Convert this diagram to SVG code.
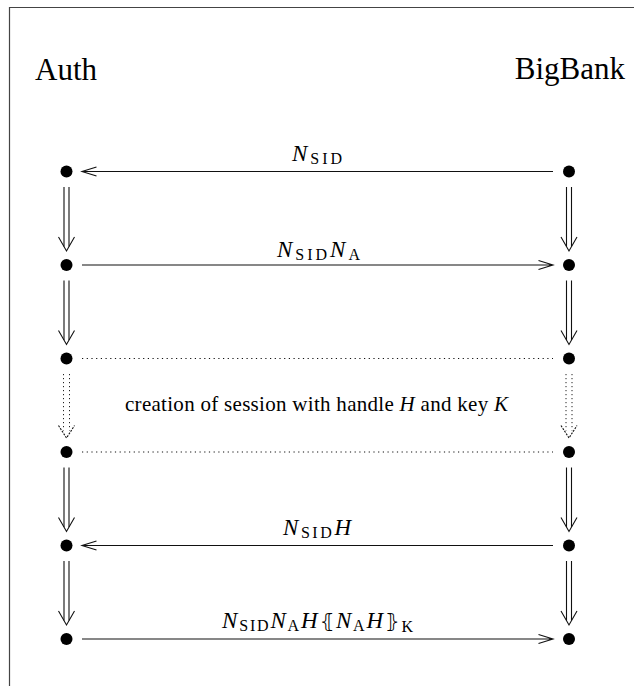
<svg xmlns="http://www.w3.org/2000/svg" width="634" height="686" viewBox="0 0 634 686">
<style>
.frame{stroke:#444;stroke-width:1.2;fill:none}
.ln{stroke:#111;stroke-width:1.1;fill:none}
.dot{fill:#000}
.dotted{stroke:#111;stroke-width:1.1;fill:none;stroke-dasharray:1.2 3.5}
.vdotted{stroke:#222;stroke-width:1;fill:none;stroke-dasharray:1.2 2.8}
text{font-family:'Liberation Serif','Times New Roman','DejaVu Serif',serif;fill:#000}
.title{font-size:31px}
.txt{font-size:21px}
.math{font-size:23px}
.it{font-style:italic}
.sub{font-size:16px;font-style:normal}
.br{font-family:'DejaVu Serif','DejaVu Sans',serif;font-style:normal;font-size:20px}
</style>
<defs>
<g id="dbl">
<path class="ln" d="M-2.5,15.5 V75 M2.5,15.5 V75"/>
<path class="ln" d="M-8,65.5 L0,79.5 L8,65.5"/>
</g>
<g id="dbldot">
<path class="vdotted" d="M-3,15.5 V72 M3,15.5 V72"/>
<path class="ln" d="M-8,67 L0,79.5 L8,67" stroke-dasharray="2 1.2"/>
</g>
</defs>
<path class="frame" d="M9.5,686 V7.5 H634"/>
<g id="auth"><text class="title" x="35" y="80">Auth</text></g>
<g id="bigbank"><text class="title" x="625" y="79" text-anchor="end">BigBank</text></g>
<g id="nodes">
<g id="a1"><circle class="dot" cx="66.5" cy="171.5" r="6"/></g>
<g id="a2"><circle class="dot" cx="66.5" cy="265" r="6"/></g>
<g id="a3"><circle class="dot" cx="66.5" cy="358.5" r="6"/></g>
<g id="a4"><circle class="dot" cx="66.5" cy="452" r="6"/></g>
<g id="a5"><circle class="dot" cx="66.5" cy="545.5" r="6"/></g>
<g id="a6"><circle class="dot" cx="66.5" cy="639" r="6"/></g>
<g id="b1"><circle class="dot" cx="569" cy="171.5" r="6"/></g>
<g id="b2"><circle class="dot" cx="569" cy="265" r="6"/></g>
<g id="b3"><circle class="dot" cx="569" cy="358.5" r="6"/></g>
<g id="b4"><circle class="dot" cx="569" cy="452" r="6"/></g>
<g id="b5"><circle class="dot" cx="569" cy="545.5" r="6"/></g>
<g id="b6"><circle class="dot" cx="569" cy="639" r="6"/></g>
</g>
<g id="connectors">
<use href="#dbl" transform="translate(66.5,171.5)"/>
<use href="#dbl" transform="translate(66.5,265)"/>
<use href="#dbldot" transform="translate(66.5,358.5)"/>
<use href="#dbl" transform="translate(66.5,452)"/>
<use href="#dbl" transform="translate(66.5,545.5)"/>
<use href="#dbl" transform="translate(569,171.5)"/>
<use href="#dbl" transform="translate(569,265)"/>
<use href="#dbldot" transform="translate(569,358.5)"/>
<use href="#dbl" transform="translate(569,452)"/>
<use href="#dbl" transform="translate(569,545.5)"/>
<path class="ln" d="M82,171.5 H553 M96.5,167 L82,171.5 L96.5,176"/>
<path class="ln" d="M82,265 H553 M538.5,260.5 L553,265 L538.5,269.5"/>
<path class="dotted" d="M82,358.5 H553"/>
<path class="dotted" d="M82,452 H553"/>
<path class="ln" d="M82,545.5 H553 M96.5,541 L82,545.5 L96.5,550"/>
<path class="ln" d="M82,639 H553 M538.5,634.5 L553,639 L538.5,643.5"/>
</g>
<g id="labels">
<text class="math" x="292" y="160.5" textLength="50" lengthAdjust="spacing"><tspan class="it">N</tspan><tspan class="sub" dy="3">SID</tspan></text>
<text class="math" x="277" y="257" textLength="83" lengthAdjust="spacing"><tspan class="it">N</tspan><tspan class="sub" dy="3">SID</tspan><tspan class="it" dy="-3">N</tspan><tspan class="sub" dy="3">A</tspan></text>
<text class="txt" x="125" y="411" textLength="383" lengthAdjust="spacing">creation of session with handle <tspan class="it">H</tspan> and key <tspan class="it">K</tspan></text>
<text class="math" x="283" y="535" textLength="68" lengthAdjust="spacing"><tspan class="it">N</tspan><tspan class="sub" dy="3">SID</tspan><tspan class="it" dy="-3">H</tspan></text>
<text class="math" x="222" y="628" textLength="191" lengthAdjust="spacing"><tspan class="it">N</tspan><tspan class="sub" dy="3">SID</tspan><tspan class="it" dy="-3">N</tspan><tspan class="sub" dy="3">A</tspan><tspan class="it" dy="-3">H</tspan><tspan class="br">⦃</tspan><tspan class="it">N</tspan><tspan class="sub" dy="3">A</tspan><tspan class="it" dy="-3">H</tspan><tspan class="br">⦄</tspan><tspan class="sub it" dy="4">K</tspan></text>
</g>
</svg>
